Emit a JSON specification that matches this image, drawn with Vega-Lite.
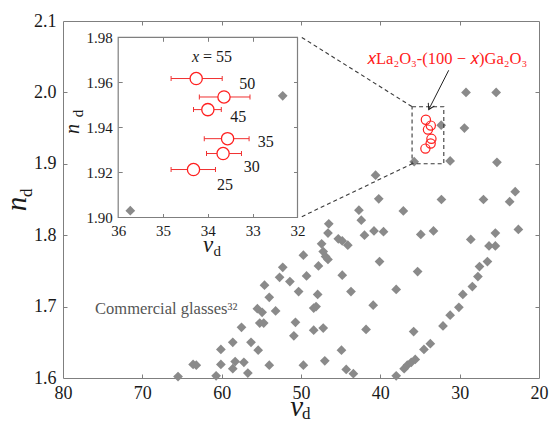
{
  "$schema": "https://vega.github.io/schema/vega-lite/v6.json",
  "width": 476,
  "height": 357,
  "autosize": {"type": "none"},
  "padding": {"left": 63, "top": 21, "right": 13, "bottom": 44},
  "background": "white",
  "config": {
    "font": "Liberation Serif",
    "view": {"stroke": "#7f7f7f", "strokeWidth": 1},
    "axis": {
      "labelFont": "Liberation Serif",
      "titleFont": "Liberation Serif",
      "grid": false,
      "tickColor": "#7f7f7f",
      "domainColor": "#7f7f7f",
      "labelColor": "#1a1a1a",
      "titleColor": "#1a1a1a",
      "labelFlush": false,
      "labelOverlap": false,
      "labelBound": false,
      "titleFontWeight": "normal"
    },
    "text": {"font": "Liberation Serif"}
  },
  "datasets": {
    "glass": [
      {"v":29.2,"n":2.000},{"v":25.4,"n":2.000},{"v":32.33,"n":1.954},{"v":29.4,"n":1.950},{"v":35.73,"n":1.903},{"v":31.2,"n":1.904},{"v":25.3,"n":1.902},
      {"v":40.6,"n":1.884},{"v":40.2,"n":1.851},{"v":32.3,"n":1.850},{"v":27.0,"n":1.850},{"v":23.0,"n":1.861},{"v":23.7,"n":1.847},{"v":22.6,"n":1.808},
      {"v":37.1,"n":1.834},{"v":42.7,"n":1.835},{"v":42.4,"n":1.821},{"v":46.5,"n":1.816},{"v":46.6,"n":1.803},{"v":42.0,"n":1.800},{"v":40.8,"n":1.806},{"v":39.6,"n":1.805},{"v":34.9,"n":1.801},{"v":33.3,"n":1.806},{"v":28.6,"n":1.794},{"v":25.5,"n":1.803},
      {"v":45.3,"n":1.795},{"v":44.8,"n":1.792},{"v":44.1,"n":1.786},{"v":47.4,"n":1.788},{"v":49.7,"n":1.772},{"v":47.2,"n":1.777},{"v":46.9,"n":1.770},{"v":46.6,"n":1.766},{"v":47.8,"n":1.757},{"v":52.3,"n":1.755},{"v":40.1,"n":1.763},{"v":35.3,"n":1.749},{"v":49.3,"n":1.743},{"v":44.8,"n":1.744},{"v":51.4,"n":1.735},{"v":50.3,"n":1.721},{"v":47.9,"n":1.717},{"v":43.7,"n":1.721},{"v":38.0,"n":1.724},{"v":48.4,"n":1.698},{"v":48.1,"n":1.700},{"v":40.9,"n":1.702},{"v":50.7,"n":1.678},{"v":50.9,"n":1.659},{"v":48.4,"n":1.667},{"v":47.2,"n":1.670},{"v":41.8,"n":1.668},{"v":35.8,"n":1.665},{"v":44.9,"n":1.639},{"v":49.7,"n":1.618},{"v":47.0,"n":1.624},{"v":44.3,"n":1.612},{"v":43.4,"n":1.606},{"v":38.0,"n":1.603},{"v":37.0,"n":1.613},{"v":36.6,"n":1.618},{"v":36.1,"n":1.622},{"v":35.6,"n":1.626},{"v":34.5,"n":1.640},{"v":33.7,"n":1.648},{"v":32.1,"n":1.673},{"v":31.2,"n":1.688},{"v":30.1,"n":1.699},{"v":29.6,"n":1.717},{"v":28.4,"n":1.728},{"v":27.7,"n":1.742},{"v":27.5,"n":1.756},{"v":26.5,"n":1.763},{"v":26.3,"n":1.785},{"v":25.5,"n":1.785},
      {"v":65.5,"n":1.602},{"v":63.6,"n":1.619},{"v":63.2,"n":1.618},{"v":60.7,"n":1.603},{"v":60.1,"n":1.619},{"v":60.1,"n":1.640},{"v":58.6,"n":1.650},{"v":58.6,"n":1.613},{"v":58.3,"n":1.623},{"v":57.5,"n":1.671},{"v":57.2,"n":1.622},{"v":56.7,"n":1.607},{"v":56.3,"n":1.650},{"v":55.4,"n":1.639},{"v":55.5,"n":1.697},{"v":54.9,"n":1.692},{"v":55.2,"n":1.677},{"v":54.7,"n":1.677},{"v":54.6,"n":1.730},{"v":54.0,"n":1.713},{"v":54.0,"n":1.618},{"v":53.2,"n":1.694},{"v":52.7,"n":1.741}
    ],
    "la": [
      {"x":55,"v":34.26,"n":1.9617,"e1":34.82,"e2":33.68},
      {"x":50,"v":33.64,"n":1.9535,"e1":34.19,"e2":33.06},
      {"x":45,"v":34.00,"n":1.9479,"e1":34.32,"e2":33.70},
      {"x":35,"v":33.56,"n":1.9350,"e1":34.08,"e2":33.08},
      {"x":30,"v":33.66,"n":1.9284,"e1":34.03,"e2":33.25},
      {"x":25,"v":34.32,"n":1.9213,"e1":34.82,"e2":33.83}
    ],
    "box": [{"v1":32,"v2":36,"n1":1.90,"n2":1.98}],
    "conn": [
      {"v1":49.9,"n1":2.077,"v2":36,"n2":1.98},
      {"v1":49.9,"n1":1.826,"v2":36,"n2":1.90}
    ],
    "arrow": [{"v1":31.38,"n1":2.031,"v2":33.9,"n2":1.976}],
    "annot": [{"t":"𝑥La₂O₃-(100 − 𝑥)Ga₂O₃","v":31.58,"n":2.0403}],
    "comm": [{"t":"Commercial glasses³²","v":75.96,"n":1.6902}],
    "ilabels": [
      {"t":"50","v":33.12,"n":1.9591},
      {"t":"45","v":33.32,"n":1.9445},
      {"t":"35","v":32.71,"n":1.9335},
      {"t":"30","v":33.02,"n":1.9224},
      {"t":"25","v":33.62,"n":1.9143}
    ],
    "x55": [{"v":34.175,"n":1.969}]
  },
  "resolve": {
    "scale": {"x": "independent", "y": "independent"},
    "axis": {"x": "independent", "y": "independent"}
  },
  "layer": [
    {
      "data": {"name": "glass"},
      "mark": {"type": "point", "shape": "diamond", "filled": true, "color": "#8a8a8a", "size": 95, "opacity": 1},
      "encoding": {
        "x": {"field": "v", "type": "quantitative",
              "scale": {"domain": [20, 80], "reverse": true, "nice": false, "zero": false},
              "axis": {"orient": "bottom", "values": [20,30,40,50,60,70,80], "format": "d", "labelFont": "Liberation Serif", "labelFontSize": 18, "labelPadding": 6, "ticks": false, "domain": false,
                       "title": "ν", "titleFont": "Liberation Serif", "titleFontSize": 29, "titleFontStyle": "italic", "titleX": 233.2, "titleY": 37.3, "titleBaseline": "alphabetic", "titleAlign": "center"}},
        "y": {"field": "n", "type": "quantitative",
              "scale": {"domain": [1.6, 2.1], "nice": false, "zero": false},
              "axis": {"orient": "left", "values": [1.6,1.7,1.8,1.9,2.0,2.1], "format": ".1f", "labelFont": "Liberation Serif", "labelFontSize": 18, "labelPadding": 7, "ticks": false, "domain": false,
                       "title": "n", "titleFont": "Liberation Serif", "titleFontSize": 29, "titleFontStyle": "italic", "titleX": -38, "titleY": 182.6, "titleAngle": 270, "titleBaseline": "alphabetic", "titleAlign": "center"}}
      }
    },
    {
      "data": {"name": "la"},
      "mark": {"type": "point", "shape": "circle", "filled": false, "color": "#ff2020", "strokeWidth": 1.2, "size": 85, "opacity": 1},
      "encoding": {
        "x": {"field": "v", "type": "quantitative",
              "scale": {"domain": [20, 80], "reverse": true, "nice": false, "zero": false},
              "axis": {"orient": "top", "values": [30,40,50,60,70], "labels": false, "ticks": true, "tickSize": -4, "domain": false, "title": null}},
        "y": {"field": "n", "type": "quantitative",
              "scale": {"domain": [1.6, 2.1], "nice": false, "zero": false},
              "axis": {"orient": "right", "values": [1.7,1.8,1.9,2.0], "labels": false, "ticks": true, "tickSize": -4, "domain": false, "title": null}}
      }
    },
    {
      "data": {"name": "box"},
      "mark": {"type": "rect", "filled": false, "color": "#3a3a3a", "strokeWidth": 1.1, "strokeDash": [4, 3]},
      "encoding": {
        "x": {"field": "v1", "type": "quantitative",
              "scale": {"domain": [20, 80], "reverse": true, "nice": false, "zero": false},
              "axis": {"orient": "bottom", "values": [30,40,50,60,70], "labels": false, "ticks": true, "tickSize": -4, "domain": false,
                       "title": "d", "titleFont": "Liberation Serif", "titleFontSize": 17, "titleFontStyle": "normal", "titleX": 242.8, "titleY": 40.6, "titleBaseline": "alphabetic", "titleAlign": "center"}},
        "x2": {"field": "v2"},
        "y": {"field": "n1", "type": "quantitative",
              "scale": {"domain": [1.6, 2.1], "nice": false, "zero": false},
              "axis": {"orient": "left", "values": [1.7,1.8,1.9,2.0], "labels": false, "ticks": true, "tickSize": -4, "domain": false,
                       "title": "d", "titleFont": "Liberation Serif", "titleFontSize": 17, "titleFontStyle": "normal", "titleX": -31.3, "titleY": 171.3, "titleAngle": 270, "titleBaseline": "alphabetic", "titleAlign": "center"}},
        "y2": {"field": "n2"}
      }
    },
    {
      "data": {"name": "conn"},
      "mark": {"type": "rule", "color": "#3a3a3a", "strokeWidth": 1.1, "strokeDash": [4, 3]},
      "encoding": {
        "x": {"field": "v1", "type": "quantitative", "scale": {"domain": [20, 80], "reverse": true, "nice": false, "zero": false}, "axis": null},
        "x2": {"field": "v2"},
        "y": {"field": "n1", "type": "quantitative", "scale": {"domain": [1.6, 2.1], "nice": false, "zero": false}, "axis": null},
        "y2": {"field": "n2"}
      }
    },
    {
      "data": {"name": "arrow"},
      "mark": {"type": "rule", "color": "#222222", "strokeWidth": 1},
      "encoding": {
        "x": {"field": "v1", "type": "quantitative", "scale": {"domain": [20, 80], "reverse": true, "nice": false, "zero": false}, "axis": null},
        "x2": {"field": "v2"},
        "y": {"field": "n1", "type": "quantitative", "scale": {"domain": [1.6, 2.1], "nice": false, "zero": false}, "axis": null},
        "y2": {"field": "n2"}
      }
    },
    {
      "data": {"name": "arrow"},
      "mark": {"type": "point", "shape": "M-0.6,-1L0,0L0.6,-1", "filled": false, "color": "#222222", "strokeWidth": 1, "size": 130, "angle": 27, "opacity": 1},
      "encoding": {
        "x": {"field": "v2", "type": "quantitative", "scale": {"domain": [20, 80], "reverse": true, "nice": false, "zero": false}, "axis": null},
        "y": {"field": "n2", "type": "quantitative", "scale": {"domain": [1.6, 2.1], "nice": false, "zero": false}, "axis": null}
      }
    },
    {
      "data": {"name": "annot"},
      "mark": {"type": "text", "font": "Liberation Serif", "fontSize": 16.5, "color": "#ff2020", "align": "center", "baseline": "alphabetic"},
      "encoding": {
        "x": {"field": "v", "type": "quantitative", "scale": {"domain": [20, 80], "reverse": true, "nice": false, "zero": false}, "axis": null},
        "y": {"field": "n", "type": "quantitative", "scale": {"domain": [1.6, 2.1], "nice": false, "zero": false}, "axis": null},
        "text": {"field": "t"}
      }
    },
    {
      "data": {"name": "comm"},
      "mark": {"type": "text", "font": "Liberation Serif", "fontSize": 16.5, "color": "#555555", "align": "left", "baseline": "alphabetic"},
      "encoding": {
        "x": {"field": "v", "type": "quantitative", "scale": {"domain": [20, 80], "reverse": true, "nice": false, "zero": false}, "axis": null},
        "y": {"field": "n", "type": "quantitative", "scale": {"domain": [1.6, 2.1], "nice": false, "zero": false}, "axis": null},
        "text": {"field": "t"}
      }
    },
    {
      "data": {"name": "box"},
      "mark": {"type": "rect", "fill": "white", "stroke": "#7f7f7f", "strokeWidth": 1.2},
      "encoding": {
        "x": {"field": "v1", "type": "quantitative", "scale": {"domain": [32, 36], "reverse": true, "nice": false, "zero": false, "range": [55.2, 234.5]}, "axis": null},
        "x2": {"field": "v2"},
        "y": {"field": "n1", "type": "quantitative", "scale": {"domain": [1.90, 1.98], "nice": false, "zero": false, "range": [196.5, 16.3]}, "axis": null},
        "y2": {"field": "n2"}
      }
    },
    {
      "data": {"name": "glass"},
      "transform": [{"filter": "datum.v >= 32 && datum.v <= 36 && datum.n >= 1.9 && datum.n <= 1.98"}],
      "mark": {"type": "point", "shape": "diamond", "filled": true, "color": "#8a8a8a", "size": 95, "opacity": 1},
      "encoding": {
        "x": {"field": "v", "type": "quantitative",
              "scale": {"domain": [32, 36], "reverse": true, "nice": false, "zero": false, "range": [55.2, 234.5]},
              "axis": {"orient": "bottom", "offset": -160.5, "zindex": 1, "values": [32,33,34,35,36], "format": "d", "labelFont": "Liberation Serif", "labelFontSize": 15, "labelPadding": 6, "ticks": false, "domain": false,
                       "title": "ν", "titleFont": "Liberation Serif", "titleFontSize": 23, "titleFontStyle": "italic", "titleX": 144.5, "titleY": 33.5, "titleBaseline": "alphabetic", "titleAlign": "center"}},
        "y": {"field": "n", "type": "quantitative",
              "scale": {"domain": [1.90, 1.98], "nice": false, "zero": false, "range": [196.5, 16.3]},
              "axis": {"orient": "left", "offset": -55.2, "zindex": 1, "values": [1.90,1.92,1.94,1.96,1.98], "format": ".2f", "labelFont": "Liberation Serif", "labelFontSize": 15, "labelPadding": 6, "ticks": false, "domain": false,
                       "title": "n", "titleFont": "Liberation Serif", "titleFontSize": 20, "titleFontStyle": "italic", "titleX": -39.9, "titleY": 107.6, "titleAngle": 270, "titleBaseline": "alphabetic", "titleAlign": "center"}}
      }
    },
    {
      "data": {"name": "la"},
      "mark": {"type": "rule", "color": "#f03030", "strokeWidth": 1},
      "encoding": {
        "x": {"field": "e1", "type": "quantitative",
              "scale": {"domain": [32, 36], "reverse": true, "nice": false, "zero": false, "range": [55.2, 234.5]},
              "axis": {"orient": "top", "offset": -16.3, "zindex": 1, "values": [33,34,35], "labels": false, "ticks": true, "tickSize": -4, "domain": false, "title": null}},
        "x2": {"field": "e2"},
        "y": {"field": "n", "type": "quantitative",
              "scale": {"domain": [1.90, 1.98], "nice": false, "zero": false, "range": [196.5, 16.3]},
              "axis": {"orient": "right", "offset": -241.5, "zindex": 1, "values": [1.92,1.94,1.96], "labels": false, "ticks": true, "tickSize": -4, "domain": false, "title": null}}
      }
    },
    {
      "data": {"name": "la"},
      "mark": {"type": "tick", "orient": "vertical", "color": "#f03030", "thickness": 1, "size": 5, "opacity": 1},
      "encoding": {
        "x": {"field": "e1", "type": "quantitative", "scale": {"domain": [32, 36], "reverse": true, "nice": false, "zero": false, "range": [55.2, 234.5]}, "axis": null},
        "y": {"field": "n", "type": "quantitative", "scale": {"domain": [1.90, 1.98], "nice": false, "zero": false, "range": [196.5, 16.3]}, "axis": null}
      }
    },
    {
      "data": {"name": "la"},
      "mark": {"type": "tick", "orient": "vertical", "color": "#f03030", "thickness": 1, "size": 5, "opacity": 1},
      "encoding": {
        "x": {"field": "e2", "type": "quantitative", "scale": {"domain": [32, 36], "reverse": true, "nice": false, "zero": false, "range": [55.2, 234.5]}, "axis": null},
        "y": {"field": "n", "type": "quantitative", "scale": {"domain": [1.90, 1.98], "nice": false, "zero": false, "range": [196.5, 16.3]}, "axis": null}
      }
    },
    {
      "data": {"name": "la"},
      "mark": {"type": "point", "shape": "circle", "filled": true, "fill": "white", "stroke": "#ff2020", "strokeWidth": 1.3, "size": 150, "opacity": 1},
      "encoding": {
        "x": {"field": "v", "type": "quantitative",
              "scale": {"domain": [32, 36], "reverse": true, "nice": false, "zero": false, "range": [55.2, 234.5]},
              "axis": {"orient": "bottom", "offset": -160.5, "zindex": 1, "values": [33,34,35], "labels": false, "ticks": true, "tickSize": -4, "domain": false,
                       "title": "d", "titleFont": "Liberation Serif", "titleFontSize": 15, "titleFontStyle": "normal", "titleX": 153.7, "titleY": 38.3, "titleBaseline": "alphabetic", "titleAlign": "center"}},
        "y": {"field": "n", "type": "quantitative",
              "scale": {"domain": [1.90, 1.98], "nice": false, "zero": false, "range": [196.5, 16.3]},
              "axis": {"orient": "left", "offset": -55.2, "zindex": 1, "values": [1.92,1.94,1.96], "labels": false, "ticks": true, "tickSize": -4, "domain": false,
                       "title": "d", "titleFont": "Liberation Serif", "titleFontSize": 15, "titleFontStyle": "normal", "titleX": -36, "titleY": 92.1, "titleAngle": 270, "titleBaseline": "alphabetic", "titleAlign": "center"}}
      }
    },
    {
      "data": {"name": "ilabels"},
      "mark": {"type": "text", "font": "Liberation Serif", "fontSize": 16, "color": "#1a1a1a", "align": "center", "baseline": "middle"},
      "encoding": {
        "x": {"field": "v", "type": "quantitative", "scale": {"domain": [32, 36], "reverse": true, "nice": false, "zero": false, "range": [55.2, 234.5]}, "axis": null},
        "y": {"field": "n", "type": "quantitative", "scale": {"domain": [1.90, 1.98], "nice": false, "zero": false, "range": [196.5, 16.3]}, "axis": null},
        "text": {"field": "t"}
      }
    },
    {
      "data": {"name": "x55"},
      "mark": {"type": "text", "text": "x", "font": "Liberation Serif", "fontSize": 16, "fontStyle": "italic", "color": "#1a1a1a", "align": "right", "baseline": "alphabetic", "dx": -1},
      "encoding": {
        "x": {"field": "v", "type": "quantitative", "scale": {"domain": [32, 36], "reverse": true, "nice": false, "zero": false, "range": [55.2, 234.5]}, "axis": null},
        "y": {"field": "n", "type": "quantitative", "scale": {"domain": [1.90, 1.98], "nice": false, "zero": false, "range": [196.5, 16.3]}, "axis": null}
      }
    },
    {
      "data": {"name": "x55"},
      "mark": {"type": "text", "text": "= 55", "font": "Liberation Serif", "fontSize": 16, "color": "#1a1a1a", "align": "left", "baseline": "alphabetic", "dx": 3},
      "encoding": {
        "x": {"field": "v", "type": "quantitative", "scale": {"domain": [32, 36], "reverse": true, "nice": false, "zero": false, "range": [55.2, 234.5]}, "axis": null},
        "y": {"field": "n", "type": "quantitative", "scale": {"domain": [1.90, 1.98], "nice": false, "zero": false, "range": [196.5, 16.3]}, "axis": null}
      }
    }
  ]
}
